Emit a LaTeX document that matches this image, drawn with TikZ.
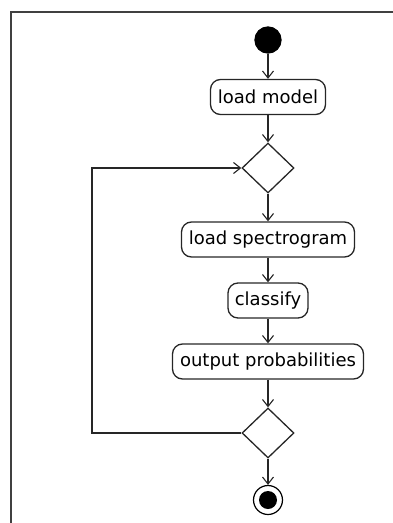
\documentclass[tikz,border=0pt]{standalone}
\usepackage{fontspec}
\setmainfont{DejaVu Sans}
\usetikzlibrary{arrows.meta,shapes.geometric}
\begin{document}
\begin{tikzpicture}[x=1pt,y=-1pt,
  line width=1.3pt,
  act/.style={draw=black!85,rounded corners=10pt,minimum height=35pt,inner sep=0pt,font=\fontsize{18}{20}\selectfont,text=black},
  decision/.style={draw=black!85,diamond,minimum width=52pt,minimum height=50pt,inner sep=0pt},
  flow/.style={draw=black!85,-{Straight Barb[length=7pt,width=11pt,line width=1.1pt]}}
]
\useasboundingbox (0,0) rectangle (393,523);
% frame
\draw[black!75,line width=1.5pt] (393,12) -- (11,12) -- (11,523);

% nodes
\node[circle,fill=black,draw=black,minimum size=26pt,inner sep=0pt] (start) at (268,40) {};
\node[act,minimum width=115pt] (model) at (268,97) {load model};
\node[decision] (d1) at (268,168) {};
\node[act,minimum width=173pt] (spec) at (268,239.5) {load spectrogram};
\node[act,minimum width=80pt] (cls) at (268,300.5) {classify};
\node[act,minimum width=191pt] (out) at (268,361.5) {output probabilities};
\node[decision] (d2) at (268,433) {};
\node[circle,draw=black,line width=1.2pt,minimum size=29pt,inner sep=0pt] (stop) at (268,500) {};
\node[circle,fill=black,minimum size=18pt,inner sep=0pt] (stopdot) at (stop.center) {};
\coordinate (loopbot) at (92,433);
\coordinate (looptop) at (92,168);

% connectors
\draw[flow] (start) -- (model);
\draw[flow] (model) -- (d1);
\draw[flow] (d1) -- (spec);
\draw[flow] (spec) -- (cls);
\draw[flow] (cls) -- (out);
\draw[flow] (out) -- (d2);
\draw[flow] (d2) -- (stop);
\draw[flow] (d2.west) -- (loopbot) -- (looptop) -- (d1.west);
\end{tikzpicture}
\end{document}
